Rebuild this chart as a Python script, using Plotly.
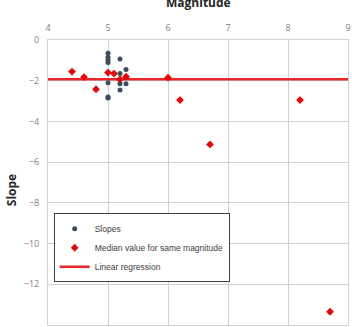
import plotly.graph_objects as go

# Slopes (dark points)
slope_mag = [5.0, 5.0, 5.0, 5.0, 5.0, 5.0, 5.0,
             5.2, 5.2, 5.2, 5.2, 5.2,
             5.3, 5.3, 5.3]
slope_val = [-0.65, -0.85, -1.0, -1.1, -2.1, -2.8, -2.85,
             -0.93, -1.65, -1.93, -2.15, -2.45,
             -1.45, -1.8, -2.15]

# Median value for same magnitude (red diamonds)
median_mag = [4.4, 4.6, 4.8, 5.0, 5.1, 5.2, 5.3, 6.0, 6.2, 6.7, 8.2, 8.7]
median_val = [-1.55, -1.82, -2.42, -1.6, -1.65, -1.93, -1.8, -1.85, -2.95, -5.13, -2.95, -13.35]

# Linear regression (horizontal)
reg_mag = [4, 9]
reg_val = [-1.93, -1.93]

x_ticks = [4, 5, 6, 7, 8, 9]
y_ticks = [0, -2, -4, -6, -8, -10, -12, -14]

fig = go.Figure()
fig.add_trace(go.Scatter(x=reg_mag, y=reg_val, mode="lines", name="Linear regression",
                         line=dict(color="#e8262a", width=2.5), legendrank=3))
fig.add_trace(go.Scatter(x=slope_mag, y=slope_val, mode="markers", name="Slopes",
                         marker=dict(color="#3d4b5c", size=5, symbol="circle"),
                         legendrank=1))
fig.add_trace(go.Scatter(x=median_mag, y=median_val, mode="markers",
                         name="Median value for same magnitude",
                         marker=dict(color="#e00a0a", size=6, symbol="diamond"),
                         legendrank=2))

fig.update_layout(
    width=352, height=327,
    margin=dict(l=48, r=4, t=40, b=2),
    plot_bgcolor="white", paper_bgcolor="white",
    font=dict(family="Open Sans, Arial, sans-serif", size=9, color="#7f7f7f"),
    showlegend=True,
    legend=dict(x=0.019, y=0.271, xanchor="left", yanchor="middle",
                bordercolor="#404040", borderwidth=1, bgcolor="white",
                font=dict(size=8.5, color="#404040",
                          family="Liberation Sans, Arial, sans-serif"),
                traceorder="normal", itemwidth=30,
                tracegroupgap=0),
    xaxis=dict(side="top", range=[4, 9], tickvals=x_ticks, showgrid=True,
               gridcolor="#d0d0d0", gridwidth=1, zeroline=False, showline=True,
               linecolor="#d0d0d0", mirror=True, ticks="", ticklabelstandoff=4),
    yaxis=dict(range=[-14, 0], tickvals=y_ticks, showgrid=True,
               gridcolor="#d0d0d0", gridwidth=1, zeroline=False, showline=True,
               linecolor="#d0d0d0", mirror=True, ticks="", ticklabelstandoff=6),
    annotations=[
        dict(text="<b>Magnitude</b>", xref="paper", yref="paper", x=0.5,
             y=1 + 40 / 285, yanchor="middle", xanchor="center", showarrow=False,
             font=dict(size=12, color="#262626"), yshift=-2),
        dict(text="<b>Slope</b>", xref="paper", yref="paper", x=-0.119, y=0.474,
             xanchor="center", yanchor="middle", textangle=-90, showarrow=False,
             font=dict(size=12, color="#262626")),
    ],
)

fig.write_html("out.html")
